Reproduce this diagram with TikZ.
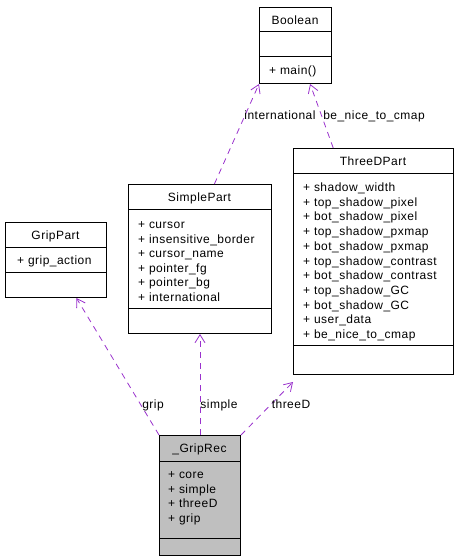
\documentclass[tikz,border=0pt]{standalone}
\usepackage{fontspec}
\setmainfont[LetterSpace=4]{Liberation Sans}
\usetikzlibrary{arrows.meta,calc}
\definecolor{edgecol}{HTML}{9A32CD}
\definecolor{grfill}{HTML}{BFBFBF}
\begin{document}
\begin{tikzpicture}[x=1pt,y=-1pt,
  box/.style={draw=black, line width=1pt, anchor=north west, inner sep=0pt},
  txt/.style={inner sep=0pt, text height=10.5pt, text depth=1.5pt, font=\fontsize{12}{14}\selectfont},
  attr/.style={txt, anchor=west},
  coll/.style={draw=edgecol, line width=0.8pt, dash pattern=on 6pt off 5pt, -{Straight Barb[length=8pt,width=10pt]}}
]
\useasboundingbox (0,0) rectangle (458,559);
% Boolean
\node[box, minimum width=72pt, minimum height=76pt] (bool) at (259,7) {};
\draw[line width=1pt] (259,32) -- (331,32) (259,57) -- (331,57);
\node[txt] (boolh) at (295,20) {Boolean};
\node[attr] (boolm) at (269,70) {+ main()};
% SimplePart
\node[box, minimum width=143pt, minimum height=149pt] (sp) at (128,184) {};
\draw[line width=1pt] (128,209) -- (271,209) (128,308) -- (271,308);
\node[txt] (sph) at (199.5,196.5) {SimplePart};
\foreach \t [count=\i from 0] in {cursor,insensitive\_border,cursor\_name,pointer\_fg,pointer\_bg,international}
  \node[attr] (sp-\i) at (138,224+14.6*\i) {+ \t};
% GripPart
\node[box, minimum width=101pt, minimum height=75pt] (gp) at (5,222) {};
\draw[line width=1pt] (5,247) -- (106,247) (5,272) -- (106,272);
\node[txt] (gph) at (55.5,235) {GripPart};
\node[attr] (gpa) at (17,260) {+ grip\_action};
% ThreeDPart
\node[box, minimum width=160pt, minimum height=226pt] (td) at (293,148) {};
\draw[line width=1pt] (293,173) -- (453,173) (293,345) -- (453,345);
\node[txt] (tdh) at (373,161) {ThreeDPart};
\foreach \t [count=\i from 0] in {shadow\_width,top\_shadow\_pixel,bot\_shadow\_pixel,top\_shadow\_pxmap,bot\_shadow\_pxmap,top\_shadow\_contrast,bot\_shadow\_contrast,top\_shadow\_GC,bot\_shadow\_GC,user\_data,be\_nice\_to\_cmap}
  \node[attr] (td-\i) at (303,187+14.7*\i) {+ \t};
% _GripRec
\node[box, fill=grfill, minimum width=81pt, minimum height=120pt] (gr) at (159,435) {};
\draw[line width=1pt] (159,461) -- (240,461) (159,538) -- (240,538);
\node[txt] (grh) at (199.5,448) {\_GripRec};
\foreach \t [count=\i from 0] in {core,simple,threeD,grip}
  \node[attr] (gr-\i) at (168,474+14.7*\i) {+ \t};
% connectors
\coordinate (gpin) at ($(gp.south west)!0.70!(gp.south east)$);
\coordinate (tdin) at ($(td.south west)+(0,7)$);
\coordinate (boolin2) at ($(bool.south west)!0.70!(bool.south east)$);
\coordinate (spout) at ($(sp.north west)!0.60!(sp.north east)$);
\coordinate (tdout) at ($(td.north west)!0.25!(td.north east)$);
\draw[coll] (gr.north west) -- (gpin);
\draw[coll] (gr.north) -- (sp.south);
\draw[coll] (gr.north east) -- (tdin);
\draw[coll] (spout) -- (bool.south west);
\draw[coll] (tdout) -- (boolin2);
% labels
\node[txt] (lgrip) at (153,404) {grip};
\node[txt] (lsimple) at (219,404) {simple};
\node[txt] (lthreed) at (291,404) {threeD};
\node[txt] (lintl) at (280,115) {international};
\node[txt] (lbnice) at (374,115) {be\_nice\_to\_cmap};
\end{tikzpicture}
\end{document}
